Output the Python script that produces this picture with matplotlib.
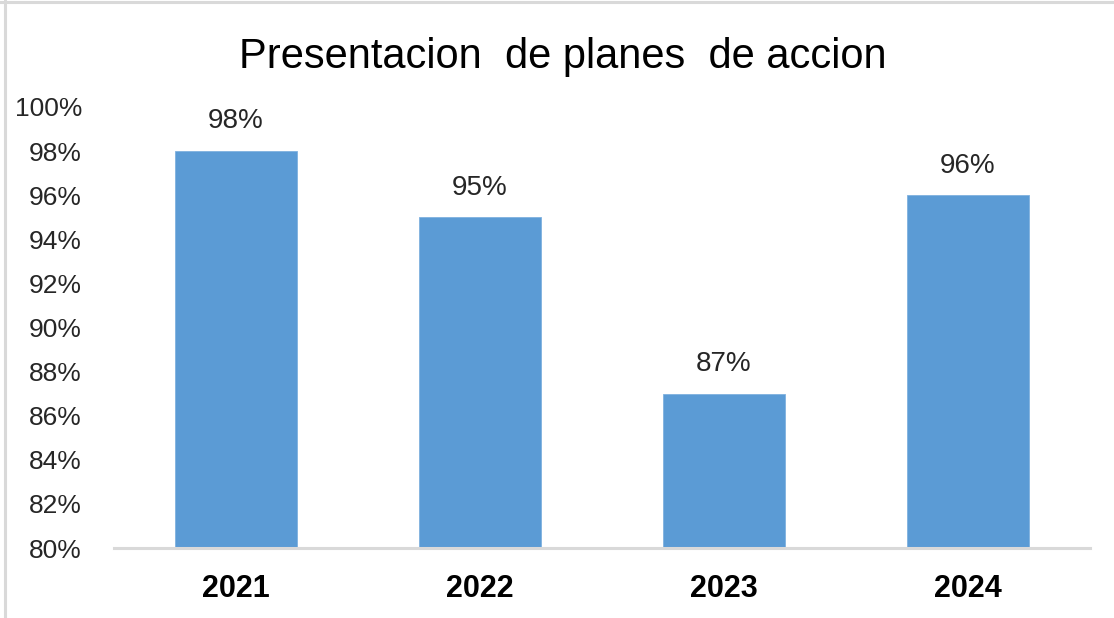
import matplotlib
matplotlib.use('Agg')
import matplotlib.pyplot as plt
from matplotlib.lines import Line2D

# data
years = ['2021', '2022', '2023', '2024']
values = [98, 95, 87, 96]
y_ticks = [80, 82, 84, 86, 88, 90, 92, 94, 96, 98, 100]

plt.rcParams['font.family'] = ['Liberation Sans Narrow', 'Liberation Sans', 'DejaVu Sans']

W, H = 1114, 618
fig = plt.figure(figsize=(W / 100, H / 100), dpi=100)
ax = fig.add_axes([114 / W, 1 - 548 / H, (1090 - 114) / W, (548 - 107) / H])

bar_color = '#5B9BD5'
x = list(range(len(years)))
ax.bar(x, values, width=0.5, color=bar_color, edgecolor='#7FB1DF', linewidth=0.6)

ax.set_ylim(80, 100)
ax.set_xlim(-0.5, 3.5)
ax.set_yticks(y_ticks)
ax.set_yticklabels([f'{t}%' for t in y_ticks], fontsize=19, color='#262626')
ax.set_xticks(x)
ax.set_xticklabels(years, fontsize=22, fontweight='bold', color='#000000')
ax.tick_params(axis='y', length=0, pad=23)
ax.tick_params(axis='x', length=0, pad=19)

for s in ['left', 'right', 'top']:
    ax.spines[s].set_visible(False)
ax.spines['bottom'].set_color('#D9D9D9')
ax.spines['bottom'].set_linewidth(2.2)

for xi, v in zip(x, values):
    ax.annotate(f'{v}%', (xi, v), xytext=(0, 12), textcoords='offset points',
                ha='center', va='bottom', fontsize=20, color='#262626')

fig.text(563 / W, 1 - 57 / H, 'Presentacion  de planes  de accion', ha='center', va='center',
         fontsize=30, color='#000000')

# outer frame (top and left edges visible)
fig.add_artist(Line2D([0, 1], [1 - 1.5 / H, 1 - 1.5 / H], transform=fig.transFigure,
                      color='#D9D9D9', linewidth=2.2))
fig.add_artist(Line2D([4.5 / W, 4.5 / W], [0, 1], transform=fig.transFigure,
                      color='#D9D9D9', linewidth=2.2))

fig.savefig('out.png', dpi=100)
